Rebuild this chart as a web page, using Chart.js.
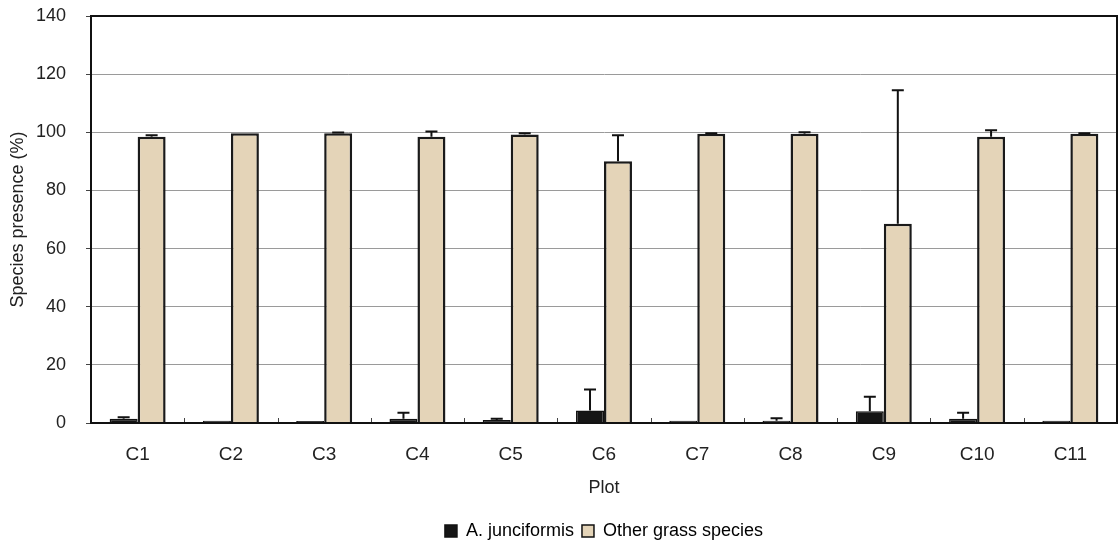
<!DOCTYPE html>
<html>
<head>
<meta charset="utf-8">
<script src="https://cdn.jsdelivr.net/npm/chart.js@4/dist/chart.umd.min.js"></script>
<style>
  html, body { margin: 0; padding: 0; background: #fff; }
  #wrap { width: 1120px; height: 550px; }
</style>
</head>
<body>
<div id="wrap"><canvas id="chart"></canvas></div>
<script>
const plots = ["C1", "C2", "C3", "C4", "C5", "C6", "C7", "C8", "C9", "C10", "C11"];
const junciformis = [1.5, 0.8, 0.7, 1.5, 1.0, 4.3, 0.8, 0.8, 4.0, 1.5, 0.8];
const junciformisErr = [0.5, 0, 0, 2.0, 0.5, 7.2, 0, 0.8, 5.0, 2.0, 0];
const otherGrass = [98.5, 99.7, 99.7, 98.5, 99.2, 90.0, 99.5, 99.5, 68.5, 98.5, 99.5];
const otherGrassErr = [0.5, 0, 0.2, 1.8, 0.5, 9.0, 0.2, 0.5, 46.0, 2.2, 0.2];
const yTicks = [0, 20, 40, 60, 80, 100, 120, 140];

const FONT = "Liberation Sans, Arial";

// Upper error bars, inward x ticks between plots, and the plot frame.
const extras = {
  id: "extras",
  afterLayout(chart) {
    // centre the legend under the plot area rather than the whole canvas
    const a = chart.chartArea;
    const shift = (a.left + a.right) / 2 - (chart.legend.left + chart.legend.right) / 2;
    chart.legend.left += shift;
    chart.legend.right += shift;
  },
  afterDatasetsDraw(chart) {
    const ctx = chart.ctx;
    const x = chart.scales.x;
    const y = chart.scales.y;
    const a = chart.chartArea;
    const errs = [junciformisErr, otherGrassErr];
    ctx.save();
    ctx.strokeStyle = "#111";
    ctx.lineWidth = 2;
    chart.data.datasets.forEach((ds, di) => {
      const meta = chart.getDatasetMeta(di);
      meta.data.forEach((bar, i) => {
        const e = errs[di][i];
        if (!e) return;
        const top = y.getPixelForValue(ds.data[i] + e);
        ctx.beginPath();
        ctx.moveTo(bar.x, bar.y);
        ctx.lineTo(bar.x, top);
        ctx.moveTo(bar.x - 6, top);
        ctx.lineTo(bar.x + 6, top);
        ctx.stroke();
      });
    });
    ctx.lineWidth = 1;
    ctx.strokeStyle = "#444";
    const step = x.getPixelForValue(1) - x.getPixelForValue(0);
    for (let i = 1; i < plots.length; i++) {
      const px = Math.round(x.getPixelForValue(i) - step / 2) + 0.5;
      ctx.beginPath();
      ctx.moveTo(px, a.bottom);
      ctx.lineTo(px, a.bottom - 5);
      ctx.stroke();
    }
    ctx.lineWidth = 2;
    ctx.strokeStyle = "#111";
    ctx.strokeRect(a.left, a.top, a.right - a.left, a.bottom - a.top);
    ctx.restore();
  }
};

new Chart(document.getElementById("chart"), {
  type: "bar",
  data: {
    labels: plots,
    datasets: [
      {
        label: "A. junciformis",
        data: junciformis,
        backgroundColor: "#151515",
        borderColor: "#111",
        borderWidth: 1.5
      },
      {
        label: "Other grass species",
        data: otherGrass,
        backgroundColor: "#e4d4b8",
        borderColor: "#1a1a1a",
        borderWidth: 2.5
      }
    ]
  },
  options: {
    responsive: true,
    maintainAspectRatio: false,
    animation: false,
    layout: { padding: { top: 16, right: 3, left: 7, bottom: 0 } },
    datasets: { bar: { categoryPercentage: 0.6, barPercentage: 1.0 } },
    plugins: {
      legend: {
        position: "bottom",
        labels: {
          boxWidth: 12,
          boxHeight: 12,
          padding: 8,
          color: "#222",
          font: { family: FONT, size: 18 },
          generateLabels(chart) {
            return chart.data.datasets.map((ds, i) => ({
              text: ds.label,
              fillStyle: ds.backgroundColor,
              strokeStyle: "#111",
              lineWidth: 1.5,
              datasetIndex: i
            }));
          }
        }
      },
      tooltip: { enabled: false }
    },
    scales: {
      x: {
        afterFit(scale) {
          scale.height = 91;
          scale.paddingLeft = 0;
          scale.paddingRight = 0;
        },
        grid: { display: false },
        border: { color: "#111", width: 2 },
        ticks: { color: "#222", padding: 12, font: { family: FONT, size: 19 } },
        title: {
          display: true,
          text: "Plot",
          color: "#222",
          padding: { top: 6, bottom: 15 },
          font: { family: FONT, size: 18 }
        }
      },
      y: {
        min: 0,
        max: 140,
        afterBuildTicks(scale) {
          scale.ticks = yTicks.map(v => ({ value: v }));
        },
        afterFit(scale) {
          scale.width = 84;
          scale.paddingTop = 0;
          scale.paddingBottom = 0;
        },
        grid: { color: "#9a9a9a", lineWidth: 1, tickLength: 5, tickColor: "#444" },
        border: { color: "#111", width: 2 },
        ticks: { color: "#222", padding: 20, font: { family: FONT, size: 18 } },
        title: {
          display: true,
          text: "Species presence (%)",
          color: "#222",
          padding: { top: 0, bottom: 6 },
          font: { family: FONT, size: 18 }
        }
      }
    }
  },
  plugins: [extras]
});
</script>
</body>
</html>
